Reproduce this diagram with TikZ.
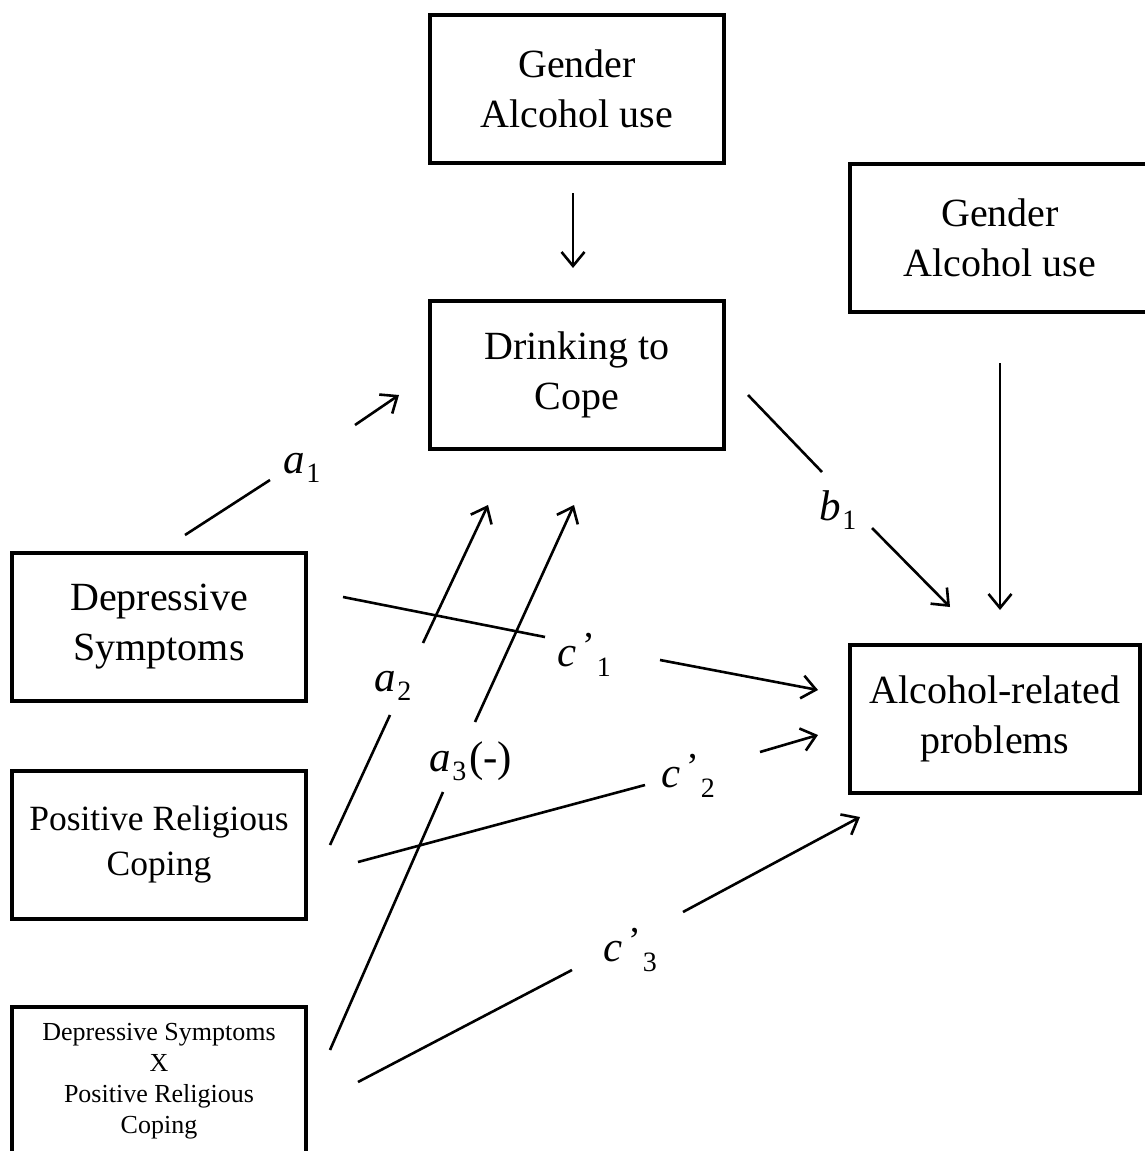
\documentclass[tikz,border=0pt]{standalone}
\usepackage{fontspec}
\setmainfont{Liberation Serif}
\usetikzlibrary{arrows.meta}
% path coefficient label: italic letter with a lowered index
\newcommand{\coef}[2]{\textit{#1}\kern1pt\raisebox{-9pt}{\fontsize{28}{28}\selectfont #2}}
% primed path coefficient label
\newcommand{\pcoef}[2]{\textit{#1}\kern6pt\raisebox{8pt}{\fontsize{38}{38}\selectfont ’}\kern2pt\raisebox{-10pt}{\fontsize{28}{28}\selectfont #2}}
\begin{document}
\begin{tikzpicture}[x=1pt,y=-1pt,
  box/.style={draw, line width=3.5pt, minimum width=294pt, minimum height=148pt,
    align=center, inner sep=0pt, font=\fontsize{40}{50}\selectfont},
  link/.style={line width=2.6pt},
  arr/.style={link, -{Straight Barb[length=14pt,width=23pt]}},
  lab/.style={inner sep=0pt, font=\fontsize{43}{43}\selectfont}]
\useasboundingbox (0,0) rectangle (1145,1151);
\clip (0,0) rectangle (1145,1151);

% boxes
\node[box] (cov1) at (577,89) {Gender\\Alcohol use};
\node[box] (dtc) at (577,375) {Drinking to\\Cope};
\node[box, minimum width=300pt] (cov2) at (1000,238) {Gender\\Alcohol use};
\node[box, minimum width=290pt] (arp) at (995,719) {Alcohol-related\\problems};
\node[box] (dep) at (159,627) {Depressive\\Symptoms};
\node[box, font=\fontsize{35.5}{45}\selectfont] (prc) at (159,845) {Positive Religious\\Coping};
\node[box, font=\fontsize{26}{31}\selectfont] (int) at (159,1081)
  {Depressive Symptoms\\X\\Positive Religious\\Coping};

% coefficient labels
\node[lab] (la1) at (302,468) {\coef{a}{1}};
\node[lab] (lb1) at (838,510) {\coef{b}{1}};
\node[lab] (lc1) at (584,655) {\pcoef{c}{1}};
\node[lab] (la2) at (393,686) {\coef{a}{2}};
\node[lab] (la3) at (471,761) {\coef{a}{3}\kern3pt(-)};
\node[lab] (lc2) at (688,776) {\pcoef{c}{2}};
\node[lab] (lc3) at (630,950) {\pcoef{c}{3}};

% connector end points
\coordinate (k1s) at (573,193); \coordinate (k1e) at (573,268);
\coordinate (k2s) at (1000,363); \coordinate (k2e) at (1000,610);
\coordinate (b1s) at (748,395); \coordinate (b1m) at (822,472);
\coordinate (b1n) at (872,528); \coordinate (b1e) at (950,607);
\coordinate (a1s) at (185,535); \coordinate (a1m) at (270,480);
\coordinate (a1n) at (355,425); \coordinate (a1e) at (399,395);
\coordinate (c1s) at (343,597); \coordinate (c1m) at (545,637);
\coordinate (c1n) at (660,660); \coordinate (c1e) at (818,690);
\coordinate (a2s) at (330,845); \coordinate (a2m) at (390,715);
\coordinate (a2n) at (423,643); \coordinate (a2e) at (488,505);
\coordinate (a3s) at (330,1050); \coordinate (a3m) at (443,792);
\coordinate (a3n) at (475,722); \coordinate (a3e) at (574,505);
\coordinate (c2s) at (358,862); \coordinate (c2m) at (645,785);
\coordinate (c2n) at (760,752); \coordinate (c2e) at (818,735);
\coordinate (c3s) at (358,1082); \coordinate (c3m) at (572,970);
\coordinate (c3n) at (683,912); \coordinate (c3e) at (860,817);

% covariate paths
\draw[arr] (k1s) -- (k1e);
\draw[arr] (k2s) -- (k2e);
% mediated and direct paths, interrupted at their labels
\draw[link] (b1s) -- (b1m); \draw[arr] (b1n) -- (b1e);
\draw[link] (a1s) -- (a1m); \draw[arr] (a1n) -- (a1e);
\draw[link] (c1s) -- (c1m); \draw[arr] (c1n) -- (c1e);
\draw[link] (a2s) -- (a2m); \draw[arr] (a2n) -- (a2e);
\draw[link] (a3s) -- (a3m); \draw[arr] (a3n) -- (a3e);
\draw[link] (c2s) -- (c2m); \draw[arr] (c2n) -- (c2e);
\draw[link] (c3s) -- (c3m); \draw[arr] (c3n) -- (c3e);
\end{tikzpicture}
\end{document}
